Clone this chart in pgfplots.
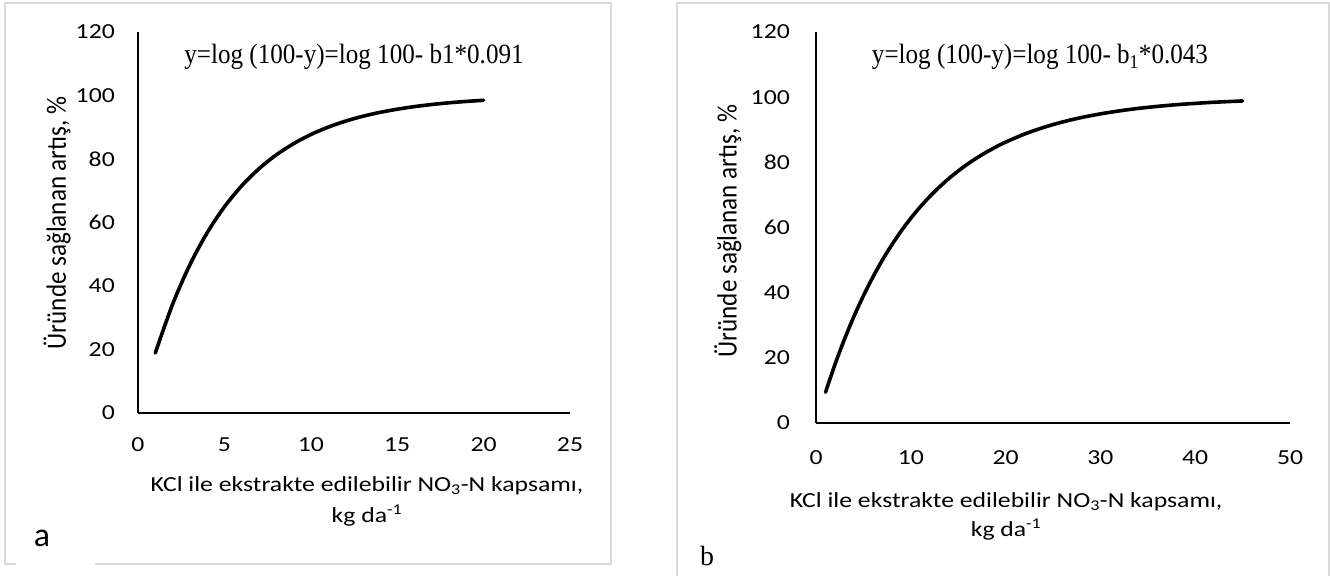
\documentclass[border=0pt]{standalone}
\usepackage{pgfplots}
\pgfplotsset{compat=1.18}
\usepackage{fontspec}
\setmainfont{Carlito}[FakeStretch=1.2]
\newfontfamily\plainsans{Carlito}
\newfontfamily\rotsans{Carlito}[FakeStretch=0.9]
\newfontfamily\eqfont{Liberation Serif}[FakeStretch=0.9]
\newfontfamily\serifletter{Liberation Serif}
\definecolor{frame}{RGB}{217,217,217}

\pgfplotstableread{
x y
1 18.90
2 34.23
3 46.66
4 56.74
5 64.92
6 71.55
7 76.93
8 81.29
9 84.82
10 87.70
11 90.02
12 91.91
13 93.44
14 94.68
15 95.68
16 96.50
17 97.16
18 97.70
19 98.13
20 98.49
}\dataA

\pgfplotstableread{
x y
1 9.43
2 17.97
3 25.70
4 32.70
5 39.05
6 44.79
7 50.00
8 54.71
9 58.98
10 62.85
11 66.35
12 69.52
13 72.39
14 75.00
15 77.35
16 79.49
17 81.42
18 83.17
19 84.76
20 86.20
22 88.68
24 90.71
26 92.38
28 93.75
30 94.87
32 95.79
34 96.55
36 97.17
38 97.68
40 98.09
42 98.44
45 98.84
}\dataB

\pgfplotsset{
  panel/.style={
    scale only axis,
    anchor=south west,
    ymin=0, ymax=120,
    ytick={0,20,...,120},
    axis x line*=bottom,
    axis y line*=left,
    axis line style={-, line width=1.5bp, black},
    major tick length=0pt,
    tick label style={font=\fontsize{21.5}{26}\selectfont, inner sep=0pt, black},
    /pgf/number format/assume math mode=true,
    xticklabel style={anchor=center},
    yticklabel style={anchor=east},
    clip=false,
  }
}

\begin{document}
\begin{tikzpicture}[x=1bp,y=1bp]
\useasboundingbox (0,0) rectangle (1330,576);
% panel frames
\draw[line width=1.5bp, frame] (5,12) rectangle (611,573);
\draw[line width=3bp, white] (16,12) -- (95,12);
\draw[line width=1.5bp, frame] (677,-2) -- (677,573) -- (1329,573) -- (1329,-2);

% panel a
\begin{axis}[panel,
  at={(138bp,163bp)},
  width=432bp, height=381bp,
  xmin=0, xmax=25,
  xtick={0,5,...,25},
  xticklabel style={yshift=-32bp},
  yticklabel style={xshift=-23bp},
  xlabel={KCl ile ekstrakte edilebilir NO\textsubscript{3}-N kapsamı,\\kg da\textsuperscript{-1}},
  xlabel style={font=\fontsize{21.5}{31}\selectfont, align=center, at={(axis description cs:0.530,-0.231)}, anchor=center},
  ylabel={Üründe sağlanan artış, \%},
  ylabel style={font=\rotsans\fontsize{28}{32}\selectfont, at={(axis description cs:-0.1875,0.499)}, anchor=center},
]
\addplot[black, line width=3.6bp, smooth, line cap=round] table[x=x,y=y] {\dataA};
\end{axis}

% panel b
\begin{axis}[panel,
  at={(816bp,153bp)},
  width=474bp, height=391bp,
  xmin=0, xmax=50,
  xtick={0,10,...,50},
  xticklabel style={yshift=-35bp},
  yticklabel style={xshift=-26bp},
  xlabel={KCl ile ekstrakte edilebilir NO\textsubscript{3}-N kapsamı,\\kg da\textsuperscript{-1}},
  xlabel style={font=\fontsize{21.5}{29}\selectfont, align=center, at={(axis description cs:0.401,-0.238)}, anchor=center},
  ylabel={Üründe sağlanan artış, \%},
  ylabel style={font=\rotsans\fontsize{28}{32}\selectfont, at={(axis description cs:-0.186,0.491)}, anchor=center},
]
\addplot[black, line width=3.6bp, smooth, line cap=round] table[x=x,y=y] {\dataB};
\end{axis}

% equations and panel letters
\node[font=\eqfont\fontsize{28}{30}\selectfont, anchor=center] at (354,519) {y=log (100-y)=log 100- b1*0.091};
\node[font=\eqfont\fontsize{28}{30}\selectfont, anchor=center] at (1040,519) {y=log (100-y)=log 100- b\textsubscript{1}*0.043};
\node[font=\plainsans\fontsize{34}{38}\selectfont, anchor=center] at (42,38) {a};
\node[font=\serifletter\fontsize{28}{30}\selectfont, anchor=center] at (707,20) {b};
\end{tikzpicture}
\end{document}
